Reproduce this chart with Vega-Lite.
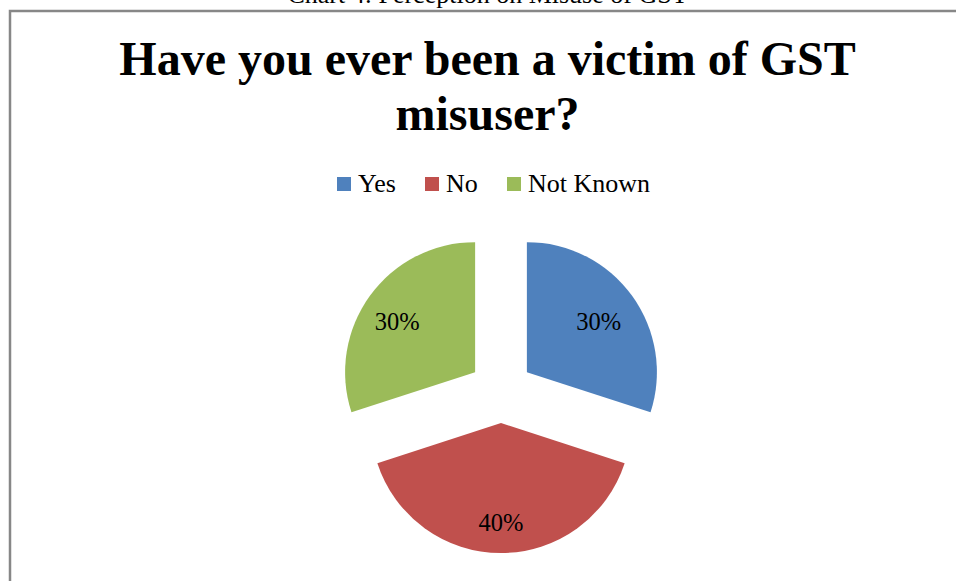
{
  "$schema": "https://vega.github.io/schema/vega-lite/v6.json",
  "width": 946,
  "height": 570,
  "autosize": {"type": "none"},
  "padding": {"left": 10, "top": 11, "right": 0, "bottom": 0},
  "background": "white",
  "config": {
    "view": {"stroke": null},
    "font": "Liberation Serif"
  },
  "title": {
    "text": "Chart 4: Perception on Misuse of GST",
    "subtitle": ["Have you ever been a victim of GST", "misuser?"],
    "anchor": "middle",
    "orient": "top",
    "frame": "group",
    "offset": -131,
    "dx": 4.5,
    "font": "Liberation Serif",
    "fontSize": 26,
    "fontWeight": "normal",
    "color": "black",
    "subtitleFont": "Liberation Serif",
    "subtitleFontSize": 48,
    "subtitleFontWeight": "bold",
    "subtitleColor": "black",
    "subtitleLineHeight": 55,
    "subtitlePadding": 29
  },
  "layer": [
    {
      "data": {"values": [{}]},
      "mark": {"type": "rect", "filled": false, "stroke": "#878787", "strokeWidth": 2.5, "strokeDash": [946, 1516, 570, 0], "strokeCap": "square"},
      "encoding": {}
    },
    {
      "data": {
        "values": [
          {"answer": "Yes", "share": 0.3},
          {"answer": "No", "share": 0.4},
          {"answer": "Not Known", "share": 0.3}
        ]
      },
      "transform": [{"window": [{"op": "row_number", "as": "ord"}]}],
      "encoding": {
        "theta": {"field": "share", "type": "quantitative", "stack": true},
        "order": {"field": "ord", "type": "quantitative"},
        "color": {
          "field": "answer",
          "type": "nominal",
          "scale": {"domain": ["Yes", "No", "Not Known"], "range": ["#4F81BD", "#C0504D", "#9BBB59"]},
          "legend": {
            "orient": "none",
            "legendX": 321,
            "legendY": 160,
            "direction": "horizontal",
            "title": null,
            "symbolType": "square",
            "symbolSize": 196,
            "symbolStrokeWidth": 0,
            "labelFont": "Liberation Serif",
            "labelFontSize": 26,
            "labelColor": "black",
            "labelOffset": 1,
            "labelLimit": 300,
            "columnPadding": 23,
            "padding": 0
          }
        }
      },
      "layer": [
        {
          "mark": {"type": "arc", "outerRadius": 130, "xOffset": 43.9, "yOffset": 76.2},
          "encoding": {"opacity": {"condition": {"test": "datum.answer === 'Yes'", "value": 1}, "value": 0}}
        },
        {
          "mark": {"type": "arc", "outerRadius": 130, "xOffset": 18, "yOffset": 127},
          "encoding": {"opacity": {"condition": {"test": "datum.answer === 'No'", "value": 1}, "value": 0}}
        },
        {
          "mark": {"type": "arc", "outerRadius": 130, "xOffset": -7.9, "yOffset": 76.2},
          "encoding": {"opacity": {"condition": {"test": "datum.answer === 'Not Known'", "value": 1}, "value": 0}}
        },
        {
          "mark": {"type": "text", "radius": 87, "thetaOffset": 0.03, "xOffset": 43.9, "yOffset": 76.2, "font": "Liberation Serif", "fontSize": 24.5, "baseline": "middle", "align": "center"},
          "encoding": {
            "text": {"field": "share", "type": "quantitative", "format": ".0%"},
            "color": {"value": "black"},
            "opacity": {"condition": {"test": "datum.answer === 'Yes'", "value": 1}, "value": 0}
          }
        },
        {
          "mark": {"type": "text", "radius": 101, "xOffset": 18, "yOffset": 127, "font": "Liberation Serif", "fontSize": 24.5, "baseline": "middle", "align": "center"},
          "encoding": {
            "text": {"field": "share", "type": "quantitative", "format": ".0%"},
            "color": {"value": "black"},
            "opacity": {"condition": {"test": "datum.answer === 'No'", "value": 1}, "value": 0}
          }
        },
        {
          "mark": {"type": "text", "radius": 92, "thetaOffset": -0.066, "xOffset": -7.9, "yOffset": 76.2, "font": "Liberation Serif", "fontSize": 24.5, "baseline": "middle", "align": "center"},
          "encoding": {
            "text": {"field": "share", "type": "quantitative", "format": ".0%"},
            "color": {"value": "black"},
            "opacity": {"condition": {"test": "datum.answer === 'Not Known'", "value": 1}, "value": 0}
          }
        }
      ]
    }
  ]
}
